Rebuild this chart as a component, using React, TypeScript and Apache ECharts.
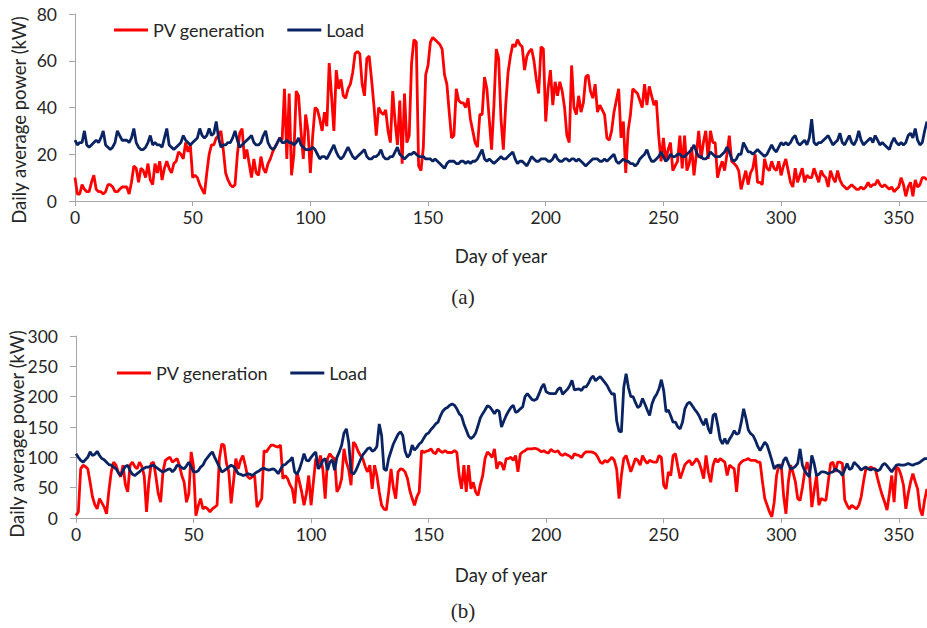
import React, { useEffect, useRef } from "react";
import * as echarts from "echarts";

// ---------- (a) daily average power, kW, day 0..362 ----------
const pvA: number[] = [
  10,3,3,7,5,4,4,8,11,5, 4,4,3,4,7,7,6,4,4,5, 6,6,6,3,8,15,14,8,14,13, 10,16,9,7,16,12,17,9,14,17,
  14,12,16,17,21,20,18,25,21,24, 10,11,10,7,5,3,12,20,24,24, 27,28,30,22,12,9,7,6,7,20, 29,31,18,22,16,10,18,12,11,19,
  14,12,16,18,21,23,25,27,26,48, 18,46,11,20,47,45,30,18,37,30, 12,28,40,39,35,30,38,32,59,45, 30,56,48,52,45,44,48,50,55,63,
  64,63,50,45,61,62,52,41,28,40, 38,37,39,30,25,47,34,24,43,16, 46,25,28,59,69,68,15,13,23,54, 58,68,70,69,68,67,65,54,50,38,
  27,28,48,43,42,42,40,44,35,30, 25,23,37,37,53,48,35,22,41,65, 61,35,22,41,55,62,67,66,69,67, 66,56,62,64,65,60,52,46,66,65,
  34,48,56,41,51,45,51,47,40,28, 25,58,40,37,45,38,42,53,54,47, 44,50,38,41,39,37,27,26,30,38, 43,48,27,34,12,30,37,48,47,46,
  43,40,50,41,49,45,41,43,28,17, 27,17,22,25,13,15,17,28,14,28, 13,16,23,11,20,30,18,25,30,18, 30,25,25,10,14,17,13,20,28,17,
  16,15,13,5,9,13,7,12,14,20, 8,8,7,18,14,13,17,14,13,17, 11,15,18,13,8,6,14,8,11,14, 8,11,10,10,14,11,8,13,11,10,
  6,13,10,8,13,9,7,6,5,6, 7,6,5,5,6,5,6,8,6,7, 7,9,7,6,7,6,5,6,4,5, 6,10,7,2,6,8,2,9,6,7, 10,10,9,
];
const loadA: number[] = [
  26,24,25,25,30,24,23,24,25,26, 25,27,30,24,23,22,23,25,30,28, 26,26,26,25,27,31,25,23,22,22, 23,25,28,24,25,24,24,23,27,31,
  24,23,22,23,24,25,28,26,25,24, 25,26,27,31,28,27,28,31,28,29, 34,27,23,24,24,25,25,27,30,26, 23,24,25,26,27,28,25,24,24,25,
  28,30,25,23,22,23,25,27,25,25, 26,25,25,24,25,27,24,23,22,22, 22,23,22,20,18,19,19,18,20,22, 24,21,19,18,19,21,23,21,19,18,
  19,20,21,22,19,18,18,19,19,20, 22,19,18,18,19,19,21,23,20,19, 18,19,20,20,21,20,19,19,19,18, 18,18,17,18,17,16,15,14,16,17,
  17,17,16,16,17,17,16,17,16,17, 17,18,20,22,18,17,18,17,16,17, 18,19,18,18,19,20,21,18,16,17, 17,16,15,17,19,18,17,17,18,18,
  18,17,17,18,20,18,17,17,18,18, 17,18,18,17,18,17,16,15,16,17, 18,18,18,17,17,18,17,18,19,20, 17,16,17,18,17,17,16,16,15,16,
  18,19,20,22,19,17,17,18,19,21, 19,17,18,20,19,19,20,20,19,19, 20,21,22,24,21,19,19,18,18,19, 21,20,19,19,19,20,21,23,21,18,
  17,18,20,20,25,23,21,21,20,21, 22,21,20,19,20,22,24,22,21,23, 25,24,25,24,25,27,28,25,24,25, 26,24,27,35,25,24,25,25,26,27,
  28,26,24,25,26,29,25,24,26,28, 25,24,26,30,26,24,25,26,27,25, 28,26,24,25,24,23,22,25,27,25, 24,25,24,25,28,29,27,31,26,24, 25,30,34,
];

// ---------- (b) daily average power, kW, day 0..362 ----------
const pvB: number[] = [
  4,10,81,87,85,81,59,35,22,15, 32,25,18,7,45,76,92,87,75,68, 87,55,43,87,92,85,81,92,85,70, 10,60,90,92,68,40,26,76,95,98,
  100,92,95,98,87,70,59,26,40,109, 85,4,20,32,15,18,15,10,15,18, 21,98,122,120,90,76,24,60,98,81, 95,103,87,68,65,68,70,18,25,32,
  111,109,115,120,120,118,117,120,65,70, 65,55,48,24,76,60,43,21,40,70, 21,60,98,87,103,80,32,98,106,100, 98,43,50,65,114,92,80,54,125,120,
  110,103,98,85,76,87,48,87,70,43, 21,15,13,43,81,50,32,76,81,80, 76,65,45,32,21,35,43,111,108,110, 111,114,108,106,114,110,108,111,108,108,
  108,111,108,70,48,87,43,87,48,59, 43,37,55,70,98,109,105,100,114,81, 92,90,79,98,98,100,95,103,76,105, 109,111,114,114,114,115,114,112,109,111,
  108,107,113,110,109,111,105,103,106,104, 102,98,106,104,103,100,106,109,109,109, 108,106,100,92,90,95,92,96,100,95, 80,32,70,98,103,90,76,87,98,95,
  87,103,95,90,95,93,92,92,103,100, 54,48,76,70,103,106,85,65,76,88, 92,95,87,92,98,92,80,65,103,75, 59,87,98,92,98,95,92,70,87,84,
  81,43,87,92,95,96,98,95,95,95, 92,92,60,32,21,10,2,26,70,87, 87,37,7,59,87,75,60,32,29,50, 76,92,76,18,45,70,21,32,30,29,
  60,90,92,76,92,92,90,30,21,15, 21,18,15,21,35,60,81,81,84,82, 81,65,50,37,26,13,40,70,26,84, 81,70,54,15,40,59,73,60,48,15, 4,30,48,
];
const loadB: number[] = [
  106,100,95,92,96,100,109,103,105,110, 103,98,96,92,88,87,84,81,75,70, 78,85,87,78,72,70,73,76,80,82, 84,84,86,87,84,81,78,76,78,80,
  81,76,80,87,86,83,81,86,92,84, 76,76,78,84,87,95,100,105,109,100, 92,84,76,78,81,84,87,85,80,73, 72,70,71,73,72,70,73,76,78,81,
  82,80,79,80,81,78,73,80,87,88, 92,95,100,76,72,80,92,106,95,94, 100,105,109,81,86,95,98,79,92,96, 79,100,109,120,140,147,125,76,72,78,
  87,96,104,109,114,116,110,112,118,155, 136,81,78,98,110,122,130,138,142,136, 110,100,105,120,112,116,122,125,132,138, 140,146,150,155,158,168,176,180,182,186,
  188,186,180,172,168,155,145,135,131,134, 140,152,165,172,178,185,183,178,172,178, 176,150,160,169,176,182,186,174,176,180, 183,200,205,200,195,194,196,205,215,221,
  208,206,205,205,205,212,215,204,208,212, 218,227,211,212,213,210,216,216,222,230, 234,226,230,233,228,223,218,210,204,205, 160,143,142,215,238,215,200,200,190,182,
  185,197,188,178,169,188,198,204,213,228, 210,175,178,168,158,158,150,147,158,180, 188,191,186,180,175,169,160,153,164,147, 139,169,172,153,130,122,131,122,130,136,
  144,138,140,158,180,164,145,139,136,128, 118,111,118,125,120,108,95,81,86,87, 81,95,100,90,81,82,85,90,114,87, 78,72,68,103,90,70,72,76,76,75,
  73,75,76,81,78,76,70,80,90,80, 82,92,88,84,79,82,84,81,79,81, 80,78,80,87,90,86,81,76,82,87, 88,87,87,88,90,88,87,89,90,92, 95,98,98,
];

const SERIES_NAMES = ["PV generation", "Load"];
const Y_TITLE = "Daily average power (kW)";
const X_TITLE = "Day of year";
const CAPTIONS = ["(a)", "(b)"];

const RED = "#FF0000";
const NAVY = "#0A2463";
const TXT = "#262626";
const AXIS = "#A6A6A6";
const FONT = "Lato, 'Open Sans', sans-serif";
const SERIF = "'Liberation Serif', 'DejaVu Serif', serif";

const toPairs = (arr: number[]) => arr.map((v, i) => [i, v]);

function xAxisCfg(gridIndex: number) {
  return {
    type: "value",
    gridIndex,
    min: 0,
    max: 362,
    interval: 50,
    axisLine: { show: true, lineStyle: { color: AXIS, width: 1 } },
    axisTick: { show: true, length: 5, lineStyle: { color: AXIS } },
    axisLabel: {
      color: TXT,
      fontFamily: FONT,
      fontSize: 17.5,
      margin: 7,
      showMaxLabel: false,
      formatter: (v: number) => (v % 50 === 0 ? String(v) : ""),
    },
    splitLine: { show: false },
  };
}

function yAxisCfg(gridIndex: number, max: number, interval: number, margin: number) {
  return {
    type: "value",
    gridIndex,
    min: 0,
    max,
    interval,
    axisLine: { show: true, lineStyle: { color: AXIS, width: 1 } },
    axisTick: { show: true, length: 6, lineStyle: { color: AXIS } },
    axisLabel: { color: TXT, fontFamily: FONT, fontSize: 17.5, margin },
    splitLine: { show: false },
  };
}

function lineSeries(name: string, data: number[], color: string, idx: number) {
  return {
    type: "line",
    name,
    xAxisIndex: idx,
    yAxisIndex: idx,
    data: toPairs(data),
    symbol: "none",
    showSymbol: false,
    smooth: false,
    lineStyle: { color, width: 2.8 },
    itemStyle: { color },
    silent: true,
  };
}

function legendCfg(left: number, top: number) {
  return {
    left,
    top,
    orient: "horizontal",
    padding: 0,
    icon: "rect",
    itemWidth: 34,
    itemHeight: 3,
    itemGap: 22,
    selectedMode: false,
    data: SERIES_NAMES,
    textStyle: { color: TXT, fontFamily: FONT, fontSize: 18, padding: [0, 0, 0, 0] },
  };
}

function txt(text: string, x: number, y: number, size: number, family: string, rotation = 0) {
  return {
    type: "text",
    x,
    y,
    rotation,
    silent: true,
    style: {
      text,
      fill: TXT,
      fontSize: size,
      fontFamily: family,
      align: "center",
      verticalAlign: "middle",
    },
  };
}

export default function App() {
  const ref = useRef<HTMLDivElement>(null);
  useEffect(() => {
    if (!ref.current) return;
    const chart = echarts.init(ref.current, undefined, { renderer: "svg" });
    chart.setOption({
      animation: false,
      backgroundColor: "#ffffff",
      grid: [
        { left: 75, top: 14, width: 852, height: 187 },
        { left: 76, top: 336, width: 851, height: 182 },
      ],
      xAxis: [xAxisCfg(0), xAxisCfg(1)],
      yAxis: [yAxisCfg(0, 80, 20, 18), yAxisCfg(1, 300, 50, 18)],
      legend: [legendCfg(114, 21), legendCfg(117, 364)],
      series: [
        lineSeries(SERIES_NAMES[0], pvA, RED, 0),
        lineSeries(SERIES_NAMES[1], loadA, NAVY, 0),
        lineSeries(SERIES_NAMES[0], pvB, RED, 1),
        lineSeries(SERIES_NAMES[1], loadB, NAVY, 1),
      ],
      graphic: [
        txt(Y_TITLE, 19, 120, 18.5, FONT, Math.PI / 2),
        txt(Y_TITLE, 17, 434, 18.5, FONT, Math.PI / 2),
        txt(X_TITLE, 501, 256, 18.5, FONT),
        txt(X_TITLE, 501, 575, 18.5, FONT),
        txt(CAPTIONS[0], 463, 297, 21, SERIF),
        txt(CAPTIONS[1], 463, 611, 21, SERIF),
      ],
    });
    return () => chart.dispose();
  }, []);
  return (
    <div
      ref={ref}
      style={{ position: "absolute", left: 0, top: 0, width: 927, height: 628, background: "#fff" }}
    />
  );
}
